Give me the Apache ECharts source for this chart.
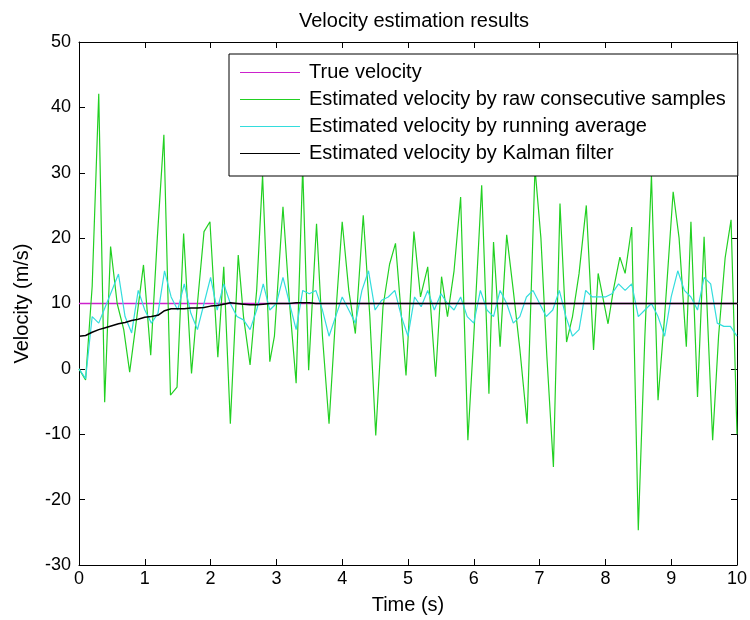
<!DOCTYPE html>
<html><head><meta charset="utf-8">
<script src="https://cdn.jsdelivr.net/npm/echarts@6/dist/echarts.min.js"></script>
<style>html,body{margin:0;padding:0;background:#fff}#c{width:750px;height:620px}</style>
</head><body><div id="c"></div>
<script>
var titleText = 'Velocity estimation results';
var xName = 'Time (s)';
var yName = 'Velocity (m/s)';
var seriesNames = ['True velocity', 'Estimated velocity by raw consecutive samples', 'Estimated velocity by running average', 'Estimated velocity by Kalman filter'];

var trueTimes = [0, 10];
var trueValues = [10, 10];

var rawTimes = [0,0.1,0.2,0.3,0.39,0.48,0.58,0.68,0.77,0.88,0.98,1.09,1.19,1.29,1.39,1.49,1.59,1.71,1.8,1.9,1.99,2.11,2.2,2.3,2.42,2.5,2.6,2.7,2.79,2.9,2.97,3.1,3.2,3.3,3.4,3.49,3.61,3.7,3.8,3.9,4.0,4.1,4.2,4.32,4.42,4.51,4.62,4.72,4.81,4.9,4.97,5.09,5.19,5.3,5.42,5.51,5.6,5.7,5.8,5.91,6.0,6.12,6.23,6.3,6.4,6.5,6.6,6.7,6.81,6.93,7.02,7.11,7.21,7.31,7.41,7.5,7.6,7.71,7.82,7.89,8.04,8.12,8.22,8.3,8.4,8.5,8.6,8.7,8.8,8.9,9.03,9.12,9.23,9.3,9.4,9.5,9.63,9.72,9.82,9.91,10.0];
var rawValues = [0,-1.7,12.6,42.1,-5.1,18.7,10,6,-0.5,8,15.9,2.1,20,35.8,-4,-2.8,20.7,-0.7,10,21,22.5,1.8,15.6,-8.4,17.4,8,0.6,12,29.6,1.1,5,24.8,10,-2.2,30.9,-0.2,22.2,5,-8.4,8,22.5,12,5.4,23.5,8,-10.2,9.5,16,19.2,8,-1,21,11,15.6,-1.2,14.1,8,15,26.3,-10.9,5,28.1,-3.8,19.4,3.4,20.5,12,3,-8.4,30.7,20,2,-15,25.3,4.1,8,14.6,25,2.9,14.6,6.9,12,17.1,14.6,21.7,-24.7,5,29.6,-4.8,8,27.1,20,3.4,22.5,-4.3,20.2,-10.9,5,17,22.8,-10];

var gridTimes = [0,0.1,0.2,0.3,0.4,0.5,0.6,0.7,0.8,0.9,1,1.1,1.2,1.3,1.4,1.5,1.6,1.7,1.8,1.9,2,2.1,2.2,2.3,2.4,2.5,2.6,2.7,2.8,2.9,3,3.1,3.2,3.3,3.4,3.5,3.6,3.7,3.8,3.9,4,4.1,4.2,4.3,4.4,4.5,4.6,4.7,4.8,4.9,5,5.1,5.2,5.3,5.4,5.5,5.6,5.7,5.8,5.9,6,6.1,6.2,6.3,6.4,6.5,6.6,6.7,6.8,6.9,7,7.1,7.2,7.3,7.4,7.5,7.6,7.7,7.8,7.9,8,8.1,8.2,8.3,8.4,8.5,8.6,8.7,8.8,8.9,9,9.1,9.2,9.3,9.4,9.5,9.6,9.7,9.8,9.9,10];
var avgValues = [0,-1.5,8,7,9.5,12,14.5,8,5.5,12,9,7,8.5,15,11,9,13,8.5,6,10,14,9,13,10,8,7.5,6,9,13,9,10,14,10,6,12,11.5,12,9,5,8,11,9,7,12,15,9,10.5,11,12,8,5,11,9.5,12,9,11.5,10,9,11,8,7,12,9,8,12,10,7,8,11,12,10,8,9,12,8,5,6,12,11,11,11,11.5,13,12,13,8,9,10,8,5,11,15,12,11,9,14,13,7,6.5,6.5,5];
var kalmanValues = [5,5.1,5.6,6,6.3,6.6,6.9,7.1,7.4,7.6,7.9,8,8.2,8.9,9.2,9.2,9.2,9.3,9.3,9.4,9.6,9.7,9.9,10.1,10,9.9,9.8,9.8,9.9,10,10,10,10,10.1,10.1,10.1,10,10,10,10,10,10,10,10,10,10,10,10,10,10,10,10,10,10,10,10,10,10,10,10,10,10,10,10,10,10,10,10,10,10,10,10,10,10,10,10,10,10,10,10,10,10,10,10,10,10,10,10,10,10,10,10,10,10,10,10,10,10,10,10,10];

var xTicks = {min: 0, max: 10, interval: 1};
var yTicks = {min: -30, max: 50, interval: 10};

function pairs(ts, vs) { return ts.map(function (t, i) { return [t, vs[i]]; }); }

var FONT = "'Liberation Sans', Arial, sans-serif";
var FS = 20;
var TFS = 18;
var chart = echarts.init(document.getElementById('c'), null, {renderer: 'canvas'});

function axisBase(extra) {
  var a = {
    type: 'value',
    axisLine: {show: true, onZero: false, lineStyle: {color: '#000', width: 1}},
    axisTick: {show: true, inside: true, length: 6, lineStyle: {color: '#000', width: 1}},
    splitLine: {show: false},
    axisLabel: {color: '#000', fontSize: TFS, fontFamily: FONT}
  };
  for (var k in extra) a[k] = extra[k];
  return a;
}

var option = {
  backgroundColor: '#fff',
  animation: false,
  title: {
    text: titleText, left: 409, top: 6, textAlign: 'center',
    textStyle: {color: '#000', fontSize: FS, fontWeight: 'normal', fontFamily: FONT}
  },
  grid: {left: 79, top: 42, width: 662, height: 528, containLabel: false},
  legend: {
    orient: 'vertical', left: 229, top: 54,
    padding: [8, 12, 12, 11],
    itemGap: 6, itemWidth: 60, itemHeight: 1,
    icon: 'rect',
    borderColor: '#000', borderWidth: 1, backgroundColor: '#fff',
    textStyle: {color: '#000', fontSize: FS, fontFamily: FONT, lineHeight: 21, padding: [0, 0, 0, 4]},
    data: seriesNames
  },
  xAxis: [
    axisBase({min: xTicks.min, max: xTicks.max, interval: xTicks.interval, position: 'bottom',
      name: xName, nameLocation: 'middle', nameGap: 30,
      nameTextStyle: {color: '#000', fontSize: FS, fontFamily: FONT},
      axisLabel: {color: '#000', fontSize: TFS, fontFamily: FONT, margin: 5}}),
    axisBase({min: xTicks.min, max: xTicks.max, interval: xTicks.interval, position: 'top',
      axisLabel: {show: false}})
  ],
  yAxis: [
    axisBase({min: yTicks.min, max: yTicks.max, interval: yTicks.interval, position: 'left',
      name: yName, nameLocation: 'middle', nameGap: 47, nameRotate: 90,
      nameTextStyle: {color: '#000', fontSize: FS, fontFamily: FONT},
      axisLabel: {color: '#000', fontSize: TFS, fontFamily: FONT, margin: 8}}),
    axisBase({min: yTicks.min, max: yTicks.max, interval: yTicks.interval, position: 'right',
      axisLabel: {show: false}})
  ],
  series: [
    {name: seriesNames[0], type: 'line', data: pairs(trueTimes, trueValues), showSymbol: false,
      lineStyle: {color: '#cc22cc', width: 1.5}, itemStyle: {color: '#cc22cc'}, z: 2},
    {name: seriesNames[1], type: 'line', data: pairs(rawTimes, rawValues), showSymbol: false,
      lineStyle: {color: '#22d022', width: 1.2}, itemStyle: {color: '#22d022'}, z: 3},
    {name: seriesNames[2], type: 'line', data: pairs(gridTimes, avgValues), showSymbol: false,
      lineStyle: {color: '#33dddd', width: 1.2}, itemStyle: {color: '#33dddd'}, z: 4},
    {name: seriesNames[3], type: 'line', data: pairs(gridTimes, kalmanValues), showSymbol: false,
      lineStyle: {color: '#000000', width: 1.5}, itemStyle: {color: '#000000'}, z: 5}
  ]
};
chart.setOption(option);
</script></body></html>
